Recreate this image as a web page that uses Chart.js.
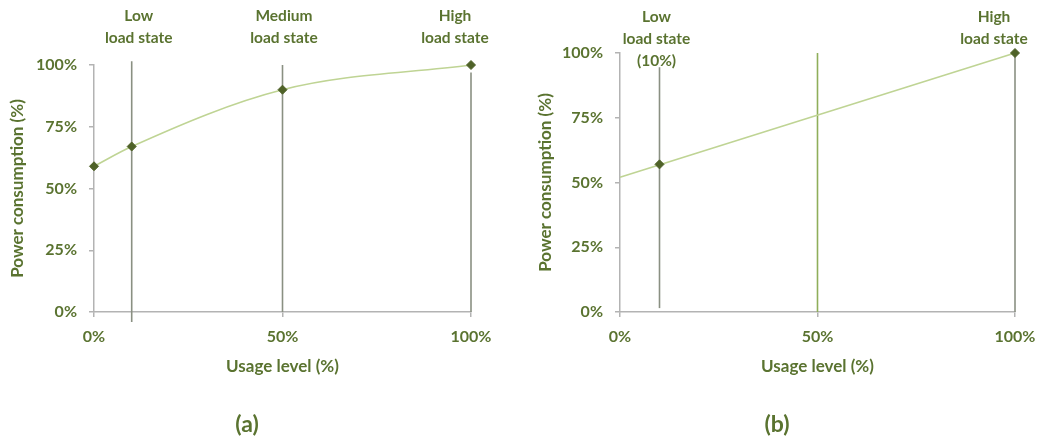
<!DOCTYPE html>
<html>
<head>
<meta charset="utf-8">
<script src="https://cdn.jsdelivr.net/npm/chart.js@4.4.1/dist/chart.umd.min.js"></script>
<style>
  html, body { margin: 0; padding: 0; background: #fff; }
  body { width: 1046px; height: 439px; position: relative; overflow: hidden; font-family: Lato, sans-serif; }
  .panel { position: absolute; top: 0; height: 439px; }
  #wrapA { left: 0; width: 520px; }
  #wrapB { left: 520px; width: 526px; }
  .cap { position: absolute; top: 423px; transform: translate(-50%, -50%); font: 700 23px Lato, sans-serif; color: #5a7330; white-space: nowrap; }
</style>
</head>
<body>
<div class="panel" id="wrapA"><canvas id="chartA" width="520" height="439"></canvas></div>
<div class="panel" id="wrapB"><canvas id="chartB" width="526" height="439"></canvas></div>
<div class="cap" style="left:247px">(a)</div>
<div class="cap" style="left:777px">(b)</div>
<script>
// ---- data ----
const xTickValues = [0, 50, 100];
const yTickValues = [0, 25, 50, 75, 100];

// (a) power curve with three load states
const usageA = [0, 10, 50, 100];
const powerA = [59, 67, 90, 100];
const stateNamesA = [['Low', 'load state'], ['Medium', 'load state'], ['High', 'load state']];
const stateUsageA = [10, 50, 100];
const stateLineBottomA = [-4, 0, 0];
const stateLineTopA = [101.5, 100, 97];

// (b) linear power model with two load states
const lineUsageB = [0, 100];
const linePowerB = [52, 100];
const markerUsageB = [10, 100];
const markerPowerB = [57, 100];
const stateNamesB = [['Low', 'load state', '(10%)'], ['High', 'load state']];
const stateUsageB = [10, 100];
const guideUsageB = [10, 50, 100];
const stateLineBottomB = [1.5, 0, 0];
const stateLineTopB = [94.5, 100, 100];

// ---- style ----
const TEXT = '#5a7330';
const CURVE = '#bfd494';
const MARK = '#4f6228';
const GUIDE = '#8a9082';
const GUIDE_GREEN = '#8fae5a';
const AXIS = '#b3b3b3';
const FONT = 'Lato, sans-serif';

const pts = (xs, ys) => xs.map((x, i) => ({ x, y: ys[i] }));

// state labels above the plot, over each state's vertical line
const stateLabels = {
  id: 'stateLabels',
  afterDraw(chart, args, opts) {
    const ctx = chart.ctx;
    const xs = chart.scales.x;
    ctx.save();
    ctx.font = '700 15.5px ' + FONT;
    ctx.fillStyle = TEXT;
    ctx.textAlign = 'center';
    ctx.textBaseline = 'middle';
    opts.names.forEach((lines, i) => {
      const cx = xs.getPixelForValue(opts.at[i]) + opts.dx[i];
      lines.forEach((t, j) => ctx.fillText(t, cx, opts.top + j * opts.step));
    });
    ctx.restore();
  }
};

function guide(x, y0, y1, color) {
  return {
    type: 'line', data: [{ x, y: y0 }, { x, y: y1 }],
    borderColor: color, borderWidth: 1.6, pointRadius: 0, clip: false, tension: 0
  };
}

function makeOptions(cfg) {
  const tickFont = { family: FONT, size: 16, weight: '700' };
  const titleFont = { family: FONT, size: 17, weight: '700' };
  return {
    responsive: false,
    animation: false,
    layout: { padding: { top: cfg.top, right: cfg.right, bottom: 62, left: 0 } },
    plugins: {
      legend: { display: false },
      tooltip: { enabled: false },
      stateLabels: cfg.labels
    },
    scales: {
      x: {
        type: 'linear', min: 0, max: 100,
        afterFit(s) { s.height = 65; },
        afterBuildTicks(s) { s.ticks = xTickValues.map(v => ({ value: v })); },
        ticks: { padding: 10, color: TEXT, font: tickFont, callback: v => v + '%', maxRotation: 0 },
        grid: { drawOnChartArea: false, drawTicks: true, tickLength: 5, color: AXIS, lineWidth: 1.5 },
        border: { color: AXIS, width: 1.5 },
        title: { display: true, text: 'Usage level (%)', color: TEXT, font: titleFont, padding: { top: 0, bottom: 0 } }
      },
      y: {
        type: 'linear', min: 0, max: 100,
        afterFit(s) { s.width = cfg.yWidth; },
        afterBuildTicks(s) { s.ticks = yTickValues.map(v => ({ value: v })); },
        ticks: { padding: 12, color: TEXT, font: tickFont, callback: v => v + '%' },
        grid: { drawOnChartArea: false, drawTicks: true, tickLength: 5, color: AXIS, lineWidth: 1.5 },
        border: { color: AXIS, width: 1.5 },
        title: { display: true, text: 'Power consumption (%)', color: TEXT, font: titleFont, padding: { top: cfg.titlePad, bottom: 0 } }
      }
    }
  };
}

new Chart(document.getElementById('chartA'), {
  type: 'line',
  data: {
    datasets: [
      {
        data: pts(usageA, powerA), borderColor: CURVE, borderWidth: 1.6,
        cubicInterpolationMode: 'monotone', clip: false,
        pointStyle: 'rectRot', pointRadius: 4.5, pointBackgroundColor: MARK, pointBorderColor: MARK, pointBorderWidth: 1
      },
      ...stateUsageA.map((x, i) => guide(x, stateLineBottomA[i], stateLineTopA[i], GUIDE))
    ]
  },
  options: makeOptions({
    top: 65, right: 49, yWidth: 94, titlePad: 7,
    labels: { names: stateNamesA, at: stateUsageA, dx: [7, 1.5, -16], top: 16, step: 21.5 }
  }),
  plugins: [stateLabels]
});

new Chart(document.getElementById('chartB'), {
  type: 'line',
  data: {
    datasets: [
      {
        data: pts(markerUsageB, markerPowerB), showLine: false, clip: false,
        pointStyle: 'rectRot', pointRadius: 4.5, pointBackgroundColor: MARK, pointBorderColor: MARK, pointBorderWidth: 1
      },
      { data: pts(lineUsageB, linePowerB), borderColor: CURVE, borderWidth: 1.6, pointRadius: 0, clip: false },
      ...guideUsageB.map((x, i) => guide(x, stateLineBottomB[i], stateLineTopB[i], x === 50 ? GUIDE_GREEN : GUIDE))
    ]
  },
  options: makeOptions({
    top: 53, right: 31, yWidth: 100, titlePad: 15,
    labels: { names: stateNamesB, at: stateUsageB, dx: [-3, -21], top: 17, step: 22 }
  }),
  plugins: [stateLabels]
});
</script>
</body>
</html>
